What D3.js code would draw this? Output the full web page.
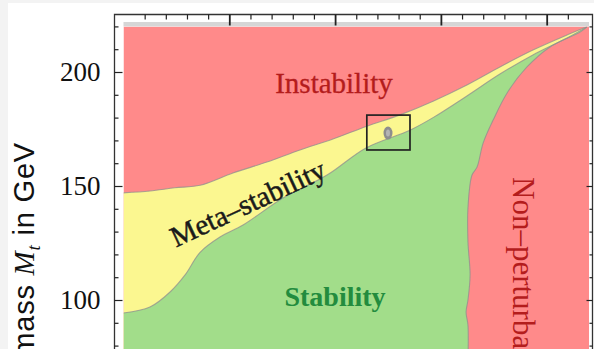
<!DOCTYPE html>
<html>
<head>
<meta charset="utf-8">
<script src="https://cdn.jsdelivr.net/npm/d3@7"></script>
<style>
  html, body { margin: 0; padding: 0; background: #fff; }
  svg { display: block; }
</style>
</head>
<body>
<div id="chart"></div>
<script>
// phase diagram: Higgs mass (x) vs top mass (y), both in GeV

// instability / meta-stability boundary  [Mh, Mt]
const upperEdge = [
  [0, 147.0], [12.5, 147.8], [24.3, 149.2], [36.2, 150.3], [51.7, 155.7],
  [67.8, 160.5], [83.4, 165.8], [99.0, 170.6], [115.0, 176.2], [130.7, 181.2],
  [146.3, 187.2], [162.3, 194.3], [177.9, 202.2], [193.5, 209.6], [209.6, 216.2],
  [219, 219.8]
];
// meta-stability / stability boundary
const lowerEdge = [
  [0, 94.3], [12.5, 96.9], [22, 103.5], [29.1, 111], [36.2, 120.9],
  [45.6, 127.6], [56.5, 132.9], [75.4, 144.7], [96.2, 154.8], [114.6, 166.7],
  [135.4, 174.5], [146.3, 180.0], [162.3, 189.5], [177.9, 199.1], [193.5, 207.5],
  [209.6, 214.9], [219, 219.8]
];
// stability / non-perturbative boundary, ordered top to bottom
const nonPertEdge = [
  [219, 219.8], [215.8, 217.5], [201.6, 211], [190.7, 202.2], [181.3, 190.8],
  [174.7, 178.9], [170, 168.9], [167.1, 158.3], [164.7, 154.8], [162.8, 140.4],
  [162.8, 125.4], [163.8, 111], [162.8, 100], [161.9, 94.7], [162.8, 89],
  [162.8, 70], [162.8, 50]
];
// measured point and its error box
const measured = { mh: 125, mt: 173.2 };
const errBox = { mh0: 115, mh1: 135.4, mt0: 165.8, mt1: 181.1 };

const xMajor = [50, 100, 150, 200];
const xMinor = [10, 20, 30, 40, 60, 70, 80, 90, 110, 120, 130, 140, 160, 170, 180, 190, 210];
const yMajor = [100, 150, 200];
const yMinor = [60, 70, 80, 90, 110, 120, 130, 140, 160, 170, 180, 190, 210, 220];

const svgWidth = 594;
const svgHeight = 349;
const frame = { left: 114.5, top: 14.5, right: 592.5 };
const colors = {
  pink: '#ff8a8a',
  yellow: '#fbf790',
  green: '#a2dd8a',
  edge: '#8f8f8f'
};

const x = d3.scaleLinear().domain([0, 220]).range([123.5, 589]);
const y = d3.scaleLinear().domain([50, 220]).range([414, 26.4]);

const svg = d3.select('#chart').append('svg')
  .attr('width', svgWidth)
  .attr('height', svgHeight);

// outer page tint
svg.append('rect').attr('width', svgWidth).attr('height', svgHeight).attr('fill', '#f3f3f3');
svg.append('rect').attr('x', 8).attr('y', 3)
  .attr('width', svgWidth - 8).attr('height', svgHeight - 3).attr('fill', '#fff');

svg.append('clipPath').attr('id', 'plotClip')
  .append('rect')
  .attr('x', x(0)).attr('y', y(220))
  .attr('width', x(220) - x(0)).attr('height', y(50) - y(220));

const plot = svg.append('g').attr('clip-path', 'url(#plotClip)');

plot.append('rect')
  .attr('x', x(0)).attr('y', y(220))
  .attr('width', x(220) - x(0)).attr('height', y(50) - y(220))
  .attr('fill', colors.pink);

const below = d3.area()
  .curve(d3.curveCatmullRom)
  .x(d => x(d[0]))
  .y0(y(50))
  .y1(d => y(d[1]));

plot.append('path').datum(upperEdge).attr('d', below).attr('fill', colors.yellow);
plot.append('path').datum(lowerEdge).attr('d', below).attr('fill', colors.green);

const rightOf = d3.area()
  .curve(d3.curveCatmullRom)
  .y(d => y(d[1]))
  .x0(d => x(d[0]))
  .x1(x(222));
plot.append('path').datum(nonPertEdge).attr('d', rightOf).attr('fill', colors.pink);

// soft grey outlines on the region borders
const line = d3.line().curve(d3.curveCatmullRom).x(d => x(d[0])).y(d => y(d[1]));
[upperEdge, lowerEdge, nonPertEdge].forEach(pts => {
  plot.append('path').datum(pts).attr('d', line)
    .attr('fill', 'none')
    .attr('stroke', colors.edge)
    .attr('stroke-width', 1.1)
    .attr('stroke-opacity', 0.75);
});

// strip above the plot range
svg.append('rect')
  .attr('x', x(0)).attr('y', 22)
  .attr('width', x(220) - x(0)).attr('height', y(220) - 22)
  .attr('fill', '#d6d6d6');

// error box and point
svg.append('rect')
  .attr('x', x(errBox.mh0)).attr('y', y(errBox.mt1))
  .attr('width', x(errBox.mh1) - x(errBox.mh0))
  .attr('height', y(errBox.mt0) - y(errBox.mt1))
  .attr('fill', 'none')
  .attr('stroke', '#222')
  .attr('stroke-width', 1.7);
svg.append('ellipse')
  .attr('cx', x(measured.mh)).attr('cy', y(measured.mt))
  .attr('rx', 4.5).attr('ry', 6.5)
  .attr('fill', '#8e8e8e');
svg.append('ellipse')
  .attr('cx', x(measured.mh)).attr('cy', y(measured.mt))
  .attr('rx', 2).attr('ry', 3.5)
  .attr('fill', '#b4b4b4');

// frame
svg.append('path')
  .attr('d', `M${frame.left},${svgHeight + 2}V${frame.top}H${frame.right}V${svgHeight + 2}`)
  .attr('fill', 'none')
  .attr('stroke', '#333')
  .attr('stroke-width', 1.3);

const noDomain = g => g.select('.domain').remove();
const tickStyle = g => g.selectAll('line').attr('stroke', '#222').attr('stroke-width', 1.2);

svg.append('g').attr('transform', `translate(0,${frame.top})`)
  .call(d3.axisTop(x).tickValues(xMajor).tickSizeInner(-11).tickFormat(''))
  .call(noDomain).call(tickStyle)
  .selectAll('line').attr('stroke-width', 1.8);
svg.append('g').attr('transform', `translate(0,${frame.top})`)
  .call(d3.axisTop(x).tickValues(xMinor).tickSizeInner(-5).tickFormat(''))
  .call(noDomain).call(tickStyle);

const gY = svg.append('g').attr('transform', `translate(${frame.left},0)`)
  .call(d3.axisLeft(y).tickValues(yMajor).tickSizeInner(-8).tickPadding(14).tickFormat(d3.format('d')))
  .call(noDomain).call(tickStyle);
gY.selectAll('text')
  .attr('font-family', '"Liberation Serif", "Times New Roman", serif')
  .attr('font-size', 27)
  .attr('fill', '#111');
svg.append('g').attr('transform', `translate(${frame.left},0)`)
  .call(d3.axisLeft(y).tickValues(yMinor).tickSizeInner(-4).tickFormat(''))
  .call(noDomain).call(tickStyle);

svg.append('g').attr('transform', `translate(${frame.right},0)`)
  .call(d3.axisRight(y).tickValues(yMajor).tickSizeInner(-6).tickFormat(''))
  .call(noDomain).call(tickStyle);
svg.append('g').attr('transform', `translate(${frame.right},0)`)
  .call(d3.axisRight(y).tickValues(yMinor).tickSizeInner(-3).tickFormat(''))
  .call(noDomain).call(tickStyle);

// y label (cut by the picture's lower edge, as in the reference)
const yLabel = svg.append('text')
  .attr('transform', 'translate(34,142) rotate(-90)')
  .attr('text-anchor', 'end')
  .attr('font-family', '"Liberation Sans", Arial, sans-serif')
  .attr('font-size', 29)
  .attr('letter-spacing', 0.8)
  .attr('fill', '#111');
yLabel.append('tspan').text('mass ');
yLabel.append('tspan').attr('font-style', 'italic').attr('font-family', '"Liberation Serif", serif').text('M');
yLabel.append('tspan').attr('font-style', 'italic').attr('font-family', '"Liberation Serif", serif')
  .attr('font-size', 19).attr('dy', 6).text('t');
yLabel.append('tspan').attr('dy', -6).text(' in GeV');

// region names
const serif = '"Liberation Serif", "Times New Roman", serif';
svg.append('text')
  .attr('x', 334).attr('y', 93)
  .attr('text-anchor', 'middle')
  .attr('font-family', serif).attr('font-size', 29)
  .attr('fill', '#b41c1c')
  .attr('stroke', '#b41c1c').attr('stroke-width', 0.3)
  .text('Instability');
svg.append('text')
  .attr('x', 335).attr('y', 306)
  .attr('text-anchor', 'middle')
  .attr('font-family', serif).attr('font-size', 28)
  .attr('font-weight', 'bold')
  .attr('fill', '#238c3e')
  .text('Stability');
svg.append('text')
  .attr('transform', 'translate(252,212) rotate(-25)')
  .attr('text-anchor', 'middle')
  .attr('font-family', serif).attr('font-size', 29)
  .attr('fill', '#1a1a1a')
  .attr('stroke', '#1a1a1a').attr('stroke-width', 0.5)
  .text('Meta–stability');
svg.append('text')
  .attr('transform', 'translate(513,177) rotate(90)')
  .attr('font-family', serif).attr('font-size', 31)
  .attr('fill', '#b41c1c')
  .text('Non–perturbative');
</script>
</body>
</html>
